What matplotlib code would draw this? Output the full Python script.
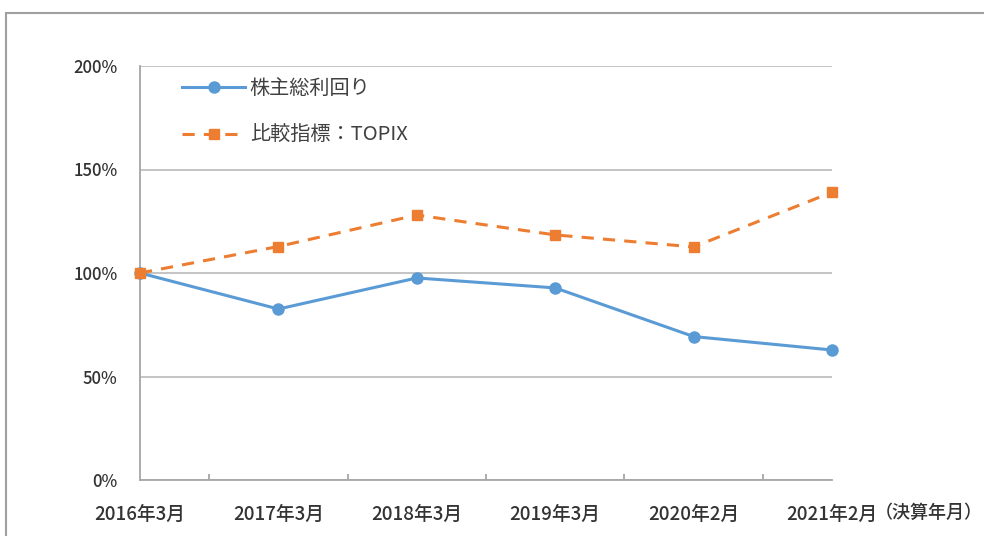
import matplotlib.pyplot as plt
from matplotlib.patches import Rectangle
from matplotlib.ticker import FixedLocator

plt.rcParams['font.family'] = ['Noto Sans CJK JP', 'DejaVu Sans']

# data
periods = ["2016年3月", "2017年3月", "2018年3月", "2019年3月", "2020年2月", "2021年2月"]
tsr = [100, 82.6, 97.6, 92.8, 69.3, 62.8]
topix = [100, 112.8, 128, 118.4, 112.6, 139]
yticks = [0, 50, 100, 150, 200]

blue = "#5B9BD5"
orange = "#ED7D31"
grid_col = "#BFBFBF"
txt_col = "#333333"

fig = plt.figure(figsize=(9.84, 5.36), dpi=100)
ax = fig.add_axes([140 / 984, 1 - 480 / 536, 692 / 984, 414 / 536])

x = list(range(len(periods)))
ax.plot(x, tsr, color=blue, lw=2.2, marker="o", ms=8, label="株主総利回り",
        clip_on=False, zorder=3)
ax.plot(x, topix, color=orange, lw=2.2, ls=(0, (4, 3)), marker="s", ms=7.5,
        label="比較指標：TOPIX", clip_on=False, zorder=3)

ax.set_xlim(0, len(periods) - 1)
ax.set_ylim(0, 200)
ax.set_yticks(yticks)
ax.set_yticklabels([f"{v}%" for v in yticks], fontsize=12, fontweight="medium", color=txt_col)
ax.set_xticks(x)
ax.set_xticklabels(periods, fontsize=13.5, fontweight="medium", color=txt_col)
ax.xaxis.set_minor_locator(FixedLocator([i + 0.5 for i in x[:-1]]))

ax.grid(axis="y", color=grid_col, lw=1.3)
ax.set_axisbelow(True)
for s in ["top", "right"]:
    ax.spines[s].set_visible(False)
for s in ["left", "bottom"]:
    ax.spines[s].set_color("#A6A6A6")
    ax.spines[s].set_linewidth(1.3)

ax.tick_params(axis="both", which="major", length=0)
ax.tick_params(axis="x", which="major", pad=18)
ax.tick_params(axis="y", pad=16)
ax.tick_params(axis="x", which="minor", direction="in", length=4, color="#A6A6A6", width=1.3)

ax.text(1.062, -0.08, "（決算年月）", transform=ax.transAxes, fontsize=13,
        fontweight="medium", color=txt_col, va="center", ha="left")

leg = ax.legend(loc="upper left", bbox_to_anchor=(0.035, 1.015), frameon=False,
                fontsize=14.5, handlelength=3.1, handletextpad=0.25, labelspacing=1.3)
for t in leg.get_texts():
    t.set_color("#404040")

# outer frame of the original image
fig.patches.append(Rectangle((6 / 984, -0.1), 1.2, 1.1 - 13 / 536, transform=fig.transFigure,
                             fill=False, edgecolor="#A0A0A0", lw=1.5))

fig.savefig("out.png", dpi=100)
